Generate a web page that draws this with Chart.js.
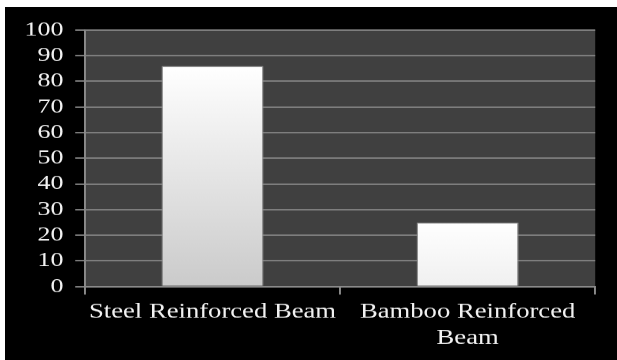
<!DOCTYPE html>
<html>
<head>
<meta charset="utf-8">
<title>Beam comparison</title>
<script src="https://cdn.jsdelivr.net/npm/chart.js@4/dist/chart.umd.min.js"></script>
<style>
  html, body { margin: 0; padding: 0; background: #ffffff; }
  #frame { position: absolute; left: 5px; top: 7px; width: 612px; height: 353px; background: #000000; }
</style>
</head>
<body>
<div id="frame">
  <!-- drawn narrow and stretched sideways, like the source figure -->
  <canvas id="beamChart" width="471" height="353" style="display:block;width:612px;height:353px"></canvas>
</div>
<script>
// chart data
const categories = [['Steel Reinforced Beam'], ['Bamboo Reinforced', 'Beam']];
const beamValues = [86, 25];
const yMin = 0;
const yMax = 100;
const yStep = 10;

document.addEventListener('DOMContentLoaded', function () {
  // dark grey plot area behind the bars
  const plotBackground = {
    id: 'plotBackground',
    beforeDraw(chart) {
      const { ctx, chartArea } = chart;
      ctx.save();
      ctx.fillStyle = '#404040';
      ctx.fillRect(chartArea.left, chartArea.top, chartArea.width, chartArea.height);
      ctx.restore();
    }
  };

  // white to grey shading down each bar
  function barFill(context) {
    const chart = context.chart;
    const area = chart.chartArea;
    if (!area) return '#ffffff';
    const top = chart.scales.y.getPixelForValue(context.raw);
    const g = chart.ctx.createLinearGradient(0, top, 0, top + area.height);
    g.addColorStop(0, '#ffffff');
    g.addColorStop(1, '#c2c2c2');
    return g;
  }

  const canvas = document.getElementById('beamChart');
  new Chart(canvas.getContext('2d'), {
    type: 'bar',
    data: {
      labels: categories,
      datasets: [{
        data: beamValues,
        backgroundColor: barFill,
        borderColor: '#8e8e8e',
        borderWidth: 1,
        categoryPercentage: 0.8,
        barPercentage: 0.5
      }]
    },
    options: {
      responsive: false,
      devicePixelRatio: 1.3,
      animation: false,
      layout: { padding: { top: 23, right: 17, left: 0, bottom: 0 } },
      plugins: {
        legend: { display: false },
        tooltip: { enabled: false }
      },
      scales: {
        x: {
          grid: {
            drawOnChartArea: false,
            drawTicks: true,
            tickLength: 8,
            color: '#8a8a8a',
            lineWidth: 1.5
          },
          border: { display: true, color: '#8a8a8a', width: 1.5 },
          ticks: {
            color: '#f2f2f2',
            padding: 4,
            maxRotation: 0,
            autoSkip: false,
            font: { family: 'Liberation Serif', size: 20.5, lineHeight: 1.3 }
          },
          afterFit: function (scale) { scale.height = 74; }
        },
        y: {
          min: yMin,
          max: yMax,
          ticks: {
            stepSize: yStep,
            autoSkip: false,
            color: '#f2f2f2',
            padding: 9,
            font: { family: 'Liberation Serif', size: 20, lineHeight: 1 }
          },
          grid: {
            color: '#7e7e7e',
            lineWidth: 1.5,
            tickLength: 7.5
          },
          border: { display: true, color: '#8a8a8a', width: 1.5 },
          afterFit: function (scale) { scale.width = 61.5; }
        }
      }
    },
    plugins: [plotBackground]
  });
});
</script>
</body>
</html>
